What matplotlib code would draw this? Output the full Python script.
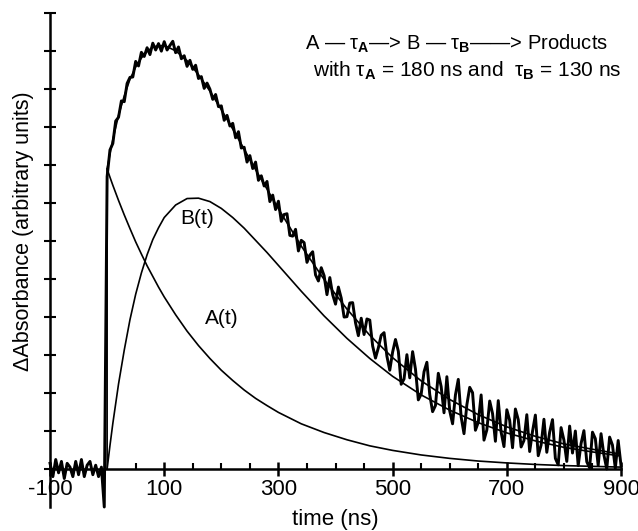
import numpy as np
import matplotlib
matplotlib.use('Agg')
import matplotlib.pyplot as plt

plt.rcParams['font.family'] = ['Liberation Sans', 'DejaVu Sans']
plt.rcParams['mathtext.fontset'] = 'custom'
plt.rcParams['mathtext.rm'] = 'Liberation Sans'
plt.rcParams['mathtext.bf'] = 'Liberation Sans:bold'

# measured trace, one point every 5 ns from -100 to 900
trace_t = np.arange(-100, 905, 5)
trace_v = [
    0.15, -0.2, 0.25, -0.1, 0.2, -0.25, 0.15, 0.05, -0.2, 0.2,
    -0.15, 0.25, -0.2, 0.1, 0.2, -0.15, 0.1, -0.2, 0.05, -1.0,
    7.7,
    8.40, 8.57, 9.16, 9.26, 9.69, 9.67, 10.15, 10.31, 10.32, 10.73,
    10.61, 10.97, 10.86, 11.09, 10.91, 11.21, 11.03, 11.20, 11.00, 11.25,
    11.03, 11.15, 11.26, 10.96, 11.11, 10.80, 10.88, 10.60, 10.76, 10.52,
    10.63, 10.28, 10.33, 10.02, 10.16, 10.00, 9.73, 9.86, 9.54, 9.56,
    9.18, 9.31, 9.03, 9.10, 8.72, 8.88, 8.45, 8.47, 8.08, 8.25,
    7.91, 8.08, 7.60, 7.72, 7.45, 7.57, 7.04, 7.21, 6.83, 7.05,
    6.52, 6.70, 6.72, 6.15, 6.13, 6.31, 5.74, 6.02, 5.96, 5.44,
    5.63, 5.72, 5.11, 4.95, 5.30, 5.09, 4.59, 5.04, 4.59, 4.34,
    4.79, 4.50, 4.00, 4.01, 4.37, 4.38, 3.85, 3.51, 3.97, 3.54,
    3.95, 3.92, 3.24, 2.92, 3.19, 3.52, 3.59, 2.97, 2.60, 3.08,
    3.41, 3.10, 2.23, 2.37, 3.01, 2.40, 3.09, 2.63, 1.82, 1.97,
    2.56, 2.81, 1.96, 1.51, 1.67, 2.52, 2.17, 1.48, 2.43, 1.53,
    1.19, 1.95, 2.36, 1.37, 0.93, 1.69, 2.15, 2.01, 1.02, 1.23,
    1.95, 0.76, 1.03, 1.79, 1.46, 0.73, 1.80, 0.97, 0.59, 1.56,
    1.28, 0.56, 1.58, 1.30, 0.58, 0.75, 1.43, 0.46, 0.99, 1.42,
    0.35, 0.63, 1.31, 0.44, 0.97, 1.30, 0.28, 0.11, 1.09, 0.76,
    0.20, 1.13, 0.42, 1.00, 0.09, 0.67, 1.01, 0.19, 0.03, 0.97,
    0.80, 0.09, 0.93, 0.37, 0.00, 0.84, 0.63, 0.02, 0.75, 0.09,
]

# smooth curves
curve_t = [0, 5, 10, 20, 30, 40, 50, 60, 70, 80, 90, 100, 120, 140, 160,
           180, 200, 220, 240, 260, 280, 300, 340, 380, 420, 460, 500,
           550, 600, 650, 700, 750, 800, 850, 900]
a_v = [7.90, 7.68, 7.47, 7.07, 6.69, 6.33, 5.98, 5.66, 5.35, 5.07, 4.79,
       4.53, 4.06, 3.63, 3.25, 2.91, 2.60, 2.33, 2.08, 1.86, 1.67, 1.49,
       1.19, 0.96, 0.77, 0.61, 0.49, 0.37, 0.28, 0.21, 0.16, 0.12, 0.09,
       0.07, 0.05]
b_v = [0.0, 0.62, 1.20, 2.24, 3.13, 3.93, 4.60, 5.16, 5.64, 6.04, 6.35,
       6.62, 6.95, 7.12, 7.13, 7.04, 6.86, 6.62, 6.34, 6.02, 5.70, 5.36,
       4.68, 4.03, 3.44, 2.91, 2.44, 1.95, 1.55, 1.22, 0.95, 0.74, 0.57,
       0.45, 0.34]
fit_v = [7.90, 8.30, 8.67, 9.31, 9.82, 10.26, 10.58, 10.82, 10.99, 11.11,
         11.14, 11.15, 11.01, 10.75, 10.38, 9.95, 9.46, 8.95, 8.42, 7.88,
         7.37, 6.85, 5.87, 4.99, 4.21, 3.52, 2.93, 2.32, 1.83, 1.43, 1.11,
         0.86, 0.66, 0.52, 0.39]

major_x = [-100, 100, 300, 500, 700, 900]
minor_x = [50, 150, 200, 250, 350, 400, 450, 550, 600, 650, 750, 800, 850]

fig = plt.figure(figsize=(6.38, 5.31), dpi=100)
ax = fig.add_axes([0.0784, 0.0452, 0.895, 0.930])

ax.plot(trace_t, trace_v, color='black', lw=2.1, clip_on=False)
ax.plot([0] + curve_t, [0] + fit_v, color='black', lw=1.2)
ax.plot(curve_t, a_v, color='black', lw=1.2)
ax.plot(curve_t, b_v, color='black', lw=1.2)

ax.set_xlim(-100, 900)
ax.set_ylim(-1, 12)

ax.spines['top'].set_visible(False)
ax.spines['right'].set_visible(False)
ax.spines['bottom'].set_position(('data', 0))
ax.spines['left'].set_linewidth(1.8)
ax.spines['bottom'].set_linewidth(1.8)

ax.set_xticks(major_x)
ax.set_xticklabels([str(v) for v in major_x])
ax.set_xticks(minor_x, minor=True)
ax.set_yticks(range(0, 13))
ax.set_yticklabels([])
ax.tick_params(axis='x', which='major', direction='inout', length=10,
               width=1.8, labelsize=16, pad=2)
ax.tick_params(axis='x', which='minor', direction='in', length=4, width=1.5)
ax.tick_params(axis='y', which='major', direction='inout', length=8,
               width=1.5)

fig.text(0.525, 0.021, 'time (ns)', fontsize=16, ha='center', va='center')
fig.text(0.037, 0.565, 'ΔAbsorbance (arbitrary units)', fontsize=15.5,
         rotation=90, ha='center', va='center')

ax.text(158, 6.6, 'B(t)', fontsize=15, ha='center', va='center')
ax.text(200, 3.95, 'A(t)', fontsize=15, ha='center', va='center')

fig.text(0.716, 0.918, 'A — τ$_{\\mathbf{A}}$—> B — τ$_{\\mathbf{B}}$——> Products',
         fontsize=14.5, ha='center', va='center')
fig.text(0.733, 0.866, 'with τ$_{\\mathbf{A}}$ = 180 ns and  τ$_{\\mathbf{B}}$ = 130 ns',
         fontsize=15, ha='center', va='center')

plt.savefig('out.png', dpi=100)
